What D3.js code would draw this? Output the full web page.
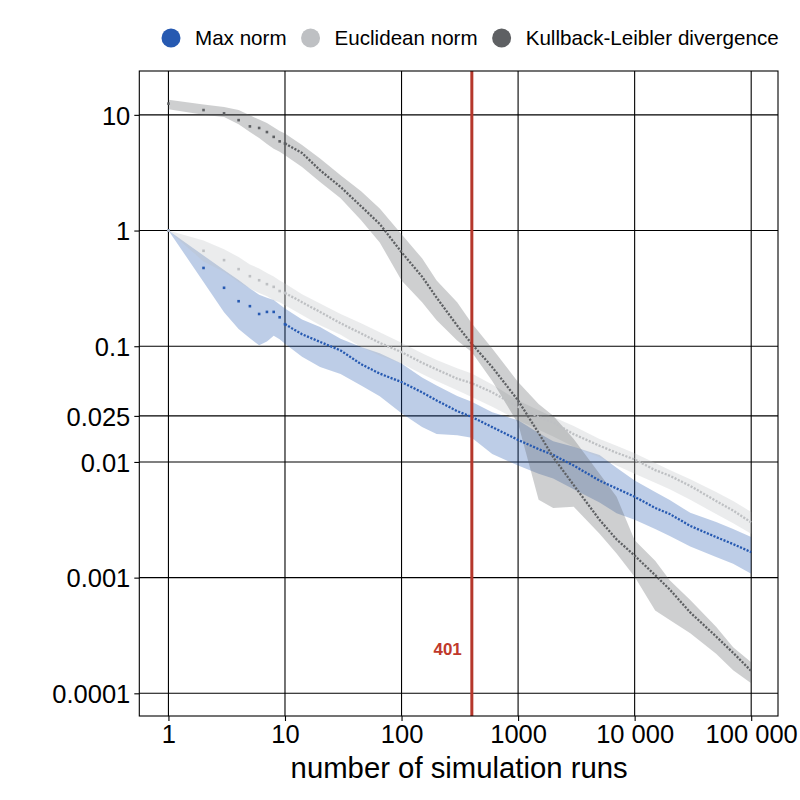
<!DOCTYPE html>
<html>
<head>
<meta charset="utf-8">
<script src="https://cdn.jsdelivr.net/npm/d3@7"></script>
<style>
  body { margin: 0; background: #fff; }
  svg text { font-family: "Liberation Sans", Arial, sans-serif; }
</style>
</head>
<body>
<div id="chart"></div>
<script>
// number of simulation runs (shared x values)
const runs = [1, 2, 3, 4, 5, 6, 7, 8, 9, 10, 14, 20, 30, 45, 65, 100, 150, 200, 300, 400, 600,
  1000, 1500, 2000, 3000, 5000, 7000, 10000, 15000, 20000, 30000, 50000, 70000, 100000];

// Max norm: median and band
const maxMid = [1, 0.475, 0.32, 0.245, 0.222, 0.19, 0.198, 0.198, 0.178, 0.155, 0.127, 0.109, 0.092, 0.070, 0.058, 0.049, 0.040, 0.034, 0.0275, 0.0245, 0.020,
  0.0155, 0.0129, 0.0115, 0.0093, 0.0069, 0.0059, 0.0050, 0.0040, 0.00355, 0.0028, 0.00224, 0.00195, 0.00166];
const maxLo = [1, 0.36, 0.197, 0.141, 0.117, 0.102, 0.11, 0.123, 0.115, 0.105, 0.081, 0.066, 0.0575, 0.0457, 0.037, 0.0263, 0.020, 0.0174, 0.017, 0.0162, 0.0117,
  0.0093, 0.0079, 0.0072, 0.0058, 0.00447, 0.0036, 0.00316, 0.00263, 0.00229, 0.00186, 0.00151, 0.00132, 0.00108];
const maxHi = [1, 0.61, 0.457, 0.374, 0.316, 0.279, 0.263, 0.251, 0.229, 0.212, 0.17, 0.147, 0.116, 0.0986, 0.087, 0.0708, 0.0537, 0.0457, 0.0372, 0.0331, 0.0269,
  0.0229, 0.0178, 0.0151, 0.0135, 0.0115, 0.0089, 0.0069, 0.0055, 0.00468, 0.00363, 0.00302, 0.00263, 0.00224];

// Euclidean norm: median and band
const eucMid = [1, 0.668, 0.555, 0.464, 0.403, 0.372, 0.344, 0.326, 0.30, 0.289, 0.24, 0.198, 0.158, 0.129, 0.107, 0.089, 0.072, 0.063, 0.0525, 0.048, 0.040,
  0.030, 0.0245, 0.0219, 0.0174, 0.0138, 0.012, 0.0105, 0.0085, 0.0076, 0.0062, 0.0046, 0.0038, 0.003];
const eucLo = [1, 0.54, 0.44, 0.36, 0.316, 0.288, 0.27, 0.25, 0.24, 0.226, 0.186, 0.152, 0.126, 0.0986, 0.083, 0.0708, 0.0575, 0.050, 0.0417, 0.0365, 0.030,
  0.0229, 0.019, 0.0166, 0.0135, 0.011, 0.0093, 0.0079, 0.0066, 0.0058, 0.0047, 0.00355, 0.00295, 0.0024];
const eucHi = [1, 0.82, 0.69, 0.59, 0.51, 0.47, 0.43, 0.40, 0.37, 0.348, 0.282, 0.234, 0.19, 0.158, 0.132, 0.107, 0.087, 0.076, 0.0646, 0.058, 0.0468,
  0.034, 0.028, 0.0245, 0.0204, 0.0158, 0.0138, 0.0119, 0.0098, 0.0085, 0.0071, 0.0055, 0.0046, 0.0037];

// Kullback-Leibler divergence: median and band
const klMid = [12.5, 11.0, 10.3, 9.0, 7.95, 7.7, 7.1, 6.45, 5.9, 5.65, 4.68, 3.32, 2.38, 1.62, 1.14, 0.65, 0.40, 0.263, 0.151, 0.105, 0.066,
  0.034, 0.0178, 0.011, 0.0063, 0.00316, 0.00214, 0.00155, 0.00105, 0.00079, 0.0005, 0.00031, 0.000224, 0.000156];
const klLo = [11.2, 10.0, 9.6, 8.3, 7.1, 6.3, 5.6, 5.1, 4.8, 4.48, 3.55, 2.63, 1.9, 1.23, 0.79, 0.37, 0.24, 0.168, 0.112, 0.089, 0.05,
  0.0215, 0.0047, 0.004, 0.0041, 0.0024, 0.00162, 0.00102, 0.00052, 0.00043, 0.00033, 0.00022, 0.000158, 0.000122];
const klHi = [13.5, 12.3, 11.7, 11.0, 9.9, 9.1, 8.5, 7.8, 7.25, 6.9, 5.5, 4.19, 3.0, 2.19, 1.55, 0.93, 0.575, 0.37, 0.24, 0.158, 0.0955,
  0.049, 0.0316, 0.0251, 0.0158, 0.0079, 0.005, 0.0021, 0.0014, 0.00095, 0.00064, 0.000376, 0.00025, 0.000186];

const xTicks = [1, 10, 100, 1000, 10000, 100000];
const xTickLabels = ["1", "10", "100", "1000", "10 000", "100 000"];
const yTicks = [10, 1, 0.1, 0.025, 0.01, 0.001, 0.0001];
const yTickLabels = ["10", "1", "0.1", "0.025", "0.01", "0.001", "0.0001"];
const seriesNames = ["Max norm", "Euclidean norm", "Kullback-Leibler divergence"];
const seriesColors = ["#2659b1", "#bec0c3", "#5e6063"];
const cutoff = 401;

const width = 800, height = 800;
const panel = { left: 139.3, right: 778, top: 71, bottom: 716 };

const svg = d3.select("#chart").append("svg")
  .attr("width", width)
  .attr("height", height);

const x = d3.scaleLog()
  .domain([Math.pow(10, -0.25), Math.pow(10, 5.23)])
  .range([panel.left, panel.right]);
const y = d3.scaleLog()
  .domain([Math.pow(10, -4.196), Math.pow(10, 1.379)])
  .range([panel.bottom, panel.top]);

// grid
const grid = svg.append("g");
grid.selectAll("line.v").data(xTicks).enter().append("line")
  .attr("x1", d => x(d)).attr("x2", d => x(d))
  .attr("y1", panel.top).attr("y2", panel.bottom)
  .attr("stroke", "#000").attr("stroke-width", 1.1);
grid.selectAll("line.h").data(yTicks).enter().append("line")
  .attr("y1", d => y(d)).attr("y2", d => y(d))
  .attr("x1", panel.left).attr("x2", panel.right)
  .attr("stroke", "#000").attr("stroke-width", 1.1);

const series = [
  { mid: maxMid, lo: maxLo, hi: maxHi },
  { mid: eucMid, lo: eucLo, hi: eucHi },
  { mid: klMid, lo: klLo, hi: klHi }
];

const area = d3.area()
  .x(d => x(d.n))
  .y0(d => y(d.lo))
  .y1(d => y(d.hi));
const line = d3.line()
  .x(d => x(d.n))
  .y(d => y(d.mid));

// bands first, then the points on top
series.forEach((s, i) => {
  const rows = runs.map((n, j) => ({ n: n, lo: s.lo[j], hi: s.hi[j], mid: s.mid[j] }));
  svg.append("path")
    .datum(rows)
    .attr("d", area)
    .attr("fill", seriesColors[i])
    .attr("fill-opacity", 0.3);
  s.rows = rows;
});

series.forEach((s, i) => {
  // dense run of points beyond 10 runs
  svg.append("path")
    .datum(s.rows.filter(d => d.n >= 10))
    .attr("d", line)
    .attr("fill", "none")
    .attr("stroke", seriesColors[i])
    .attr("stroke-width", 2.3)
    .attr("stroke-dasharray", "2.1 1.5");
  svg.append("g").selectAll("rect")
    .data(s.rows.filter(d => d.n <= 10))
    .enter().append("rect")
    .attr("x", d => x(d.n) - 1.3)
    .attr("y", d => y(d.mid) - 1.3)
    .attr("width", 2.6)
    .attr("height", 2.6)
    .attr("fill", seriesColors[i]);
});

// cutoff line
svg.append("line")
  .attr("x1", x(cutoff)).attr("x2", x(cutoff))
  .attr("y1", panel.top).attr("y2", panel.bottom)
  .attr("stroke", "#b5372b").attr("stroke-width", 3);
svg.append("text")
  .attr("x", x(cutoff) - 10)
  .attr("y", 655)
  .attr("text-anchor", "end")
  .attr("font-size", 17)
  .attr("font-weight", "bold")
  .attr("fill", "#c0392b")
  .text(cutoff);

// panel border
svg.append("rect")
  .attr("x", panel.left).attr("y", panel.top)
  .attr("width", panel.right - panel.left)
  .attr("height", panel.bottom - panel.top)
  .attr("fill", "none").attr("stroke", "#000").attr("stroke-width", 1.1);

// axes
const xAxis = svg.append("g")
  .attr("transform", `translate(0,${panel.bottom})`)
  .call(d3.axisBottom(x).tickValues(xTicks).tickSize(5).tickPadding(4)
    .tickFormat((d, i) => xTickLabels[i]));
const yAxis = svg.append("g")
  .attr("transform", `translate(${panel.left},0)`)
  .call(d3.axisLeft(y).tickValues(yTicks).tickSize(5).tickPadding(4)
    .tickFormat((d, i) => yTickLabels[i]));
[xAxis, yAxis].forEach(a => {
  a.select(".domain").remove();
  a.selectAll(".tick line").attr("stroke", "#000").attr("stroke-width", 1.1);
  a.selectAll(".tick text")
    .attr("font-family", "Liberation Sans, Arial, sans-serif")
    .attr("font-size", 25.5)
    .attr("fill", "#000");
});
yAxis.selectAll(".tick text").attr("dy", "0.36em");

svg.append("text")
  .attr("x", (panel.left + panel.right) / 2 + 0.5)
  .attr("y", 778)
  .attr("text-anchor", "middle")
  .attr("font-size", 29.3)
  .attr("fill", "#000")
  .text("number of simulation runs");

// legend
const legend = svg.append("g").attr("transform", "translate(0,38)");
let lx = 171;
seriesNames.forEach((name, i) => {
  legend.append("circle")
    .attr("cx", lx).attr("cy", 0).attr("r", 9.5)
    .attr("fill", seriesColors[i]);
  const t = legend.append("text")
    .attr("x", lx + 24).attr("y", 0).attr("dy", "0.35em")
    .attr("font-size", 20.6).attr("fill", "#000")
    .text(name);
  lx += 24 + t.node().getComputedTextLength() + 24;
});
</script>
</body>
</html>
